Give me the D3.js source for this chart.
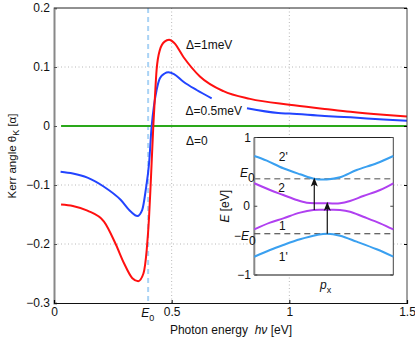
<!DOCTYPE html>
<html><head><meta charset="utf-8">
<script src="https://cdn.jsdelivr.net/npm/d3@7"></script>
<style>
html,body{margin:0;padding:0;background:#fff;}
svg text{font-family:"Liberation Sans",Arial,sans-serif;fill:#111;}
</style></head>
<body><svg id="c" width="415" height="346"></svg>
<script>
// ---------- data ----------
const E0 = 0.4;
const xTicks = [0, 0.5, 1, 1.5];
const yTicks = [0.2, 0.1, 0, -0.1, -0.2, -0.3];
const yTickLabels = ["0.2", "0.1", "0", "\u22120.1", "\u22120.2", "\u22120.3"];
const redX = [0.03,0.08,0.142,0.2125,0.262,0.298,0.333,0.358,0.38,0.394,0.404,0.411,0.422,0.429,0.436,0.45,0.47,0.489,0.51,0.55,0.62,0.72,0.833,1.0,1.15,1.26,1.4,1.5];
const redY = [-0.133,-0.1355,-0.1435,-0.162,-0.2,-0.233,-0.258,-0.263,-0.25,-0.21,-0.154,-0.097,0,0.05,0.095,0.129,0.143,0.146,0.141,0.117,0.084,0.059,0.046,0.036,0.029,0.024,0.019,0.016];
const blueX1 = [0.028,0.08,0.142,0.2125,0.283,0.326,0.354,0.375,0.39,0.404,0.415,0.425,0.436,0.45,0.47,0.486,0.51,0.55,0.606,0.67];
const blueY1 = [-0.0775,-0.0805,-0.0875,-0.103,-0.125,-0.145,-0.1525,-0.142,-0.108,-0.063,0,0.035,0.061,0.081,0.089,0.091,0.088,0.075,0.061,0.047];
const blueX2 = [0.82,0.953,1.0,1.15,1.26,1.4,1.5];
const blueY2 = [0.030,0.022,0.021,0.017,0.0147,0.011,0.009];
const greenX = [0.03, 1.5];
const greenY = [0, 0];
const curveLabels = ["\u0394=1meV", "\u0394=0.5meV", "\u0394=0"];
// inset bands (px, E)
const band2pP = [-1,-0.82,-0.583,-0.342,-0.127,0.042,0.233,0.473,0.761,1];
const band2pE = [0.731,0.663,0.552,0.465,0.396,0.39,0.421,0.527,0.625,0.731];
const band1pP = [-1,-0.774,-0.583,-0.342,-0.1,0.05,0.233,0.473,0.761,1];
const band1pE = [-0.734,-0.636,-0.564,-0.481,-0.418,-0.399,-0.428,-0.515,-0.626,-0.734];
const band2P = [-1,-0.774,-0.583,-0.39,-0.246,-0.1,0.07,0.233,0.377,0.568,0.81,1];
const band2E = [0.334,0.236,0.164,0.091,0.052,0.043,0.042,0.043,0.076,0.149,0.236,0.334];
const band1P = [-1,-0.774,-0.583,-0.342,-0.151,0.04,0.233,0.377,0.568,0.81,1];
const band1E = [-0.336,-0.239,-0.176,-0.093,-0.055,-0.053,-0.055,-0.079,-0.152,-0.248,-0.336];
const arrowP = [-0.137, 0.05];
const arrowFrom = [-0.055, -0.4];
const arrowTo = [0.42, 0.066];
const bandLabels = ["2'", "2", "1", "1'"];
const bandLabelE = [0.72, 0.27, -0.29, -0.74];

// ---------- scales ----------
const svg = d3.select("#c");
const x = d3.scaleLinear([0, 1.5], [54, 407]);
const y = d3.scaleLinear([-0.3, 0.2], [303, 8]);
const ix = d3.scaleLinear([-1, 1], [254.3, 393.3]);
const iy = d3.scaleLinear([-1, 1], [275, 137.5]);
const zip = (a, b) => a.map((v, i) => [v, b[i]]);

// grid
const grid = svg.append("g").attr("stroke", "#b8b8b8").attr("stroke-dasharray", "1,2.5").attr("stroke-width", 1);
[0.1, -0.1, -0.2].forEach(v => grid.append("line").attr("x1", x(0)).attr("x2", x(1.5)).attr("y1", y(v)).attr("y2", y(v)));
[0.5, 1].forEach(v => grid.append("line").attr("x1", x(v)).attr("x2", x(v)).attr("y1", y(-0.3)).attr("y2", y(0.2)));

// E0 dashed line
svg.append("line").attr("x1", x(E0)).attr("x2", x(E0)).attr("y1", y(0.2)).attr("y2", y(-0.3))
  .attr("stroke", "#a9d3f5").attr("stroke-width", 2).attr("stroke-dasharray", "5,4");

// curves
const line = d3.line().x(d => x(d[0])).y(d => y(d[1])).curve(d3.curveMonotoneX);
svg.append("path").attr("d", line(zip(greenX, greenY))).attr("fill", "none").attr("stroke", "#2aa81a").attr("stroke-width", 2);
svg.append("path").attr("d", line(zip(blueX1, blueY1))).attr("fill", "none").attr("stroke", "#2244ff").attr("stroke-width", 2);
svg.append("path").attr("d", line(zip(blueX2, blueY2))).attr("fill", "none").attr("stroke", "#2244ff").attr("stroke-width", 2);
svg.append("path").attr("d", line(zip(redX, redY))).attr("fill", "none").attr("stroke", "#ff1010").attr("stroke-width", 2);

// frame & axes
svg.append("line").attr("x1", x(0)).attr("x2", x(1.5)).attr("y1", y(0.2)).attr("y2", y(0.2)).attr("stroke", "#222").attr("stroke-width", 1);
svg.append("line").attr("x1", x(1.5)).attr("x2", x(1.5)).attr("y1", y(0.2)).attr("y2", y(-0.3)).attr("stroke", "#444").attr("stroke-width", 1);
const ya = svg.append("g").attr("transform", `translate(${x(0)},0)`)
  .call(d3.axisLeft(y).tickValues(yTicks).tickSize(-3).tickFormat((d, i) => yTickLabels[i]));
ya.select(".domain").attr("stroke", "#888").attr("stroke-width", 2);
ya.selectAll(".tick line").attr("stroke", "#555");
ya.selectAll("text").attr("x", -4).style("font-size", "12px").attr("font-family", null);
const yr = svg.append("g").attr("transform", `translate(${x(1.5)},0)`)
  .call(d3.axisRight(y).tickValues(yTicks).tickSize(-3).tickFormat(""));
yr.select(".domain").remove();
const xa = svg.append("g").attr("transform", `translate(0,${y(-0.3)})`)
  .call(d3.axisBottom(x).tickValues(xTicks).tickSize(-3).tickFormat(d3.format("")));
xa.select(".domain").attr("stroke", "#111").attr("stroke-width", 1.2);
xa.selectAll("text").attr("y", 4).style("font-size", "12px").attr("font-family", null);
// E0 tick label
const e0t = svg.append("text").attr("x", x(E0) - 7).attr("y", 317).style("font-size", "12px");
e0t.append("tspan").attr("font-style", "italic").text("E");
e0t.append("tspan").attr("dy", 4).style("font-size", "9px").text("0");

// axis titles
const xt = svg.append("text").attr("x", 231).attr("y", 334).attr("text-anchor", "middle").style("font-size", "12px");
xt.append("tspan").text("Photon energy\u00a0\u00a0");
xt.append("tspan").attr("font-style", "italic").text("h\u03bd");
xt.append("tspan").text("\u00a0[eV]");
const yt = svg.append("text").attr("transform", "translate(16,156) rotate(-90)").attr("text-anchor", "middle").style("font-size", "11.5px");
yt.append("tspan").text("Kerr angle \u03b8");
yt.append("tspan").attr("dy", 3).style("font-size", "9px").text("K");
yt.append("tspan").attr("dy", -3).text("\u00a0[\u03b1]");

// curve labels
svg.append("text").attr("x", 186).attr("y", 48.5).style("font-size", "12px").text(curveLabels[0]);
svg.append("text").attr("x", 185.5).attr("y", 114.5).style("font-size", "12px").text(curveLabels[1]);
svg.append("text").attr("x", 186).attr("y", 145).style("font-size", "12px").text(curveLabels[2]);

// ---------- inset ----------
const ins = svg.append("g");
ins.append("rect").attr("x", ix(-1)).attr("y", iy(1)).attr("width", ix(1) - ix(-1)).attr("height", iy(-1) - iy(1)).attr("fill", "#fff");
ins.append("line").attr("x1", ix(-1)).attr("x2", ix(1)).attr("y1", iy(1)).attr("y2", iy(1)).attr("stroke", "#222");
ins.append("line").attr("x1", ix(1)).attr("x2", ix(1)).attr("y1", iy(1)).attr("y2", iy(-1)).attr("stroke", "#444");
ins.append("line").attr("x1", ix(-1)).attr("x2", ix(-1)).attr("y1", iy(1)).attr("y2", iy(-1)).attr("stroke", "#888").attr("stroke-width", 2);
ins.append("line").attr("x1", ix(-1)).attr("x2", ix(1)).attr("y1", iy(-1)).attr("y2", iy(-1)).attr("stroke", "#888").attr("stroke-width", 2);
[1, 0, -1].forEach(v => {
  ins.append("line").attr("x1", ix(-1)).attr("x2", ix(-1) + 3).attr("y1", iy(v)).attr("y2", iy(v)).attr("stroke", "#444");
  ins.append("line").attr("x1", ix(1)).attr("x2", ix(1) - 3).attr("y1", iy(v)).attr("y2", iy(v)).attr("stroke", "#444");
});
// dashed E0 lines
ins.append("line").attr("x1", ix(-1)).attr("x2", ix(1)).attr("y1", iy(E0)).attr("y2", iy(E0)).attr("stroke", "#888").attr("stroke-width", 1.3).attr("stroke-dasharray", "6,4");
ins.append("line").attr("x1", ix(-1)).attr("x2", ix(1)).attr("y1", iy(-E0)).attr("y2", iy(-E0)).attr("stroke", "#333").attr("stroke-width", 1).attr("stroke-dasharray", "6,4");
const iline = d3.line().x(d => ix(d[0])).y(d => iy(d[1])).curve(d3.curveCatmullRom.alpha(0.5));
ins.append("path").attr("d", iline(zip(band2pP, band2pE))).attr("fill", "none").attr("stroke", "#3aa0f0").attr("stroke-width", 2);
ins.append("path").attr("d", iline(zip(band1pP, band1pE))).attr("fill", "none").attr("stroke", "#3aa0f0").attr("stroke-width", 2);
ins.append("path").attr("d", iline(zip(band2P, band2E))).attr("fill", "none").attr("stroke", "#b040f0").attr("stroke-width", 2);
ins.append("path").attr("d", iline(zip(band1P, band1E))).attr("fill", "none").attr("stroke", "#b040f0").attr("stroke-width", 2);
// arrows
arrowP.forEach((p, i) => {
  const X = ix(p), y0 = iy(arrowFrom[i]), y1 = iy(arrowTo[i]);
  ins.append("line").attr("x1", X).attr("x2", X).attr("y1", y0).attr("y2", y1 + 6).attr("stroke", "#111").attr("stroke-width", 1.2);
  ins.append("path").attr("d", `M${X},${y1} L${X - 3.5},${y1 + 9} L${X},${y1 + 7} L${X + 3.5},${y1 + 9} Z`).attr("fill", "#111");
});
// band labels
const blx = [283.3, 281.7, 282.3, 283.3];
bandLabels.forEach((t, i) => ins.append("text").attr("x", blx[i]).attr("y", iy(bandLabelE[i]) + 4).attr("text-anchor", "middle").style("font-size", "12px").text(t));
// inset tick labels
const itl = ins.append("g").style("font-size", "12px").attr("text-anchor", "end");
itl.append("text").attr("x", 251).attr("y", iy(1) + 4).text("1");
itl.append("text").attr("x", 250).attr("y", iy(0) + 4).text("0");
itl.append("text").attr("x", 251).attr("y", iy(-1) + 4).text("\u22121");
const e0a = ins.append("text").attr("x", 240).attr("y", iy(E0) - 2).style("font-size", "12px");
e0a.append("tspan").attr("font-style", "italic").text("E");
e0a.append("tspan").attr("dy", 5).style("font-size", "12px").text("0");
const e0b = ins.append("text").attr("x", 234).attr("y", iy(-E0) + 6).style("font-size", "12px");
e0b.append("tspan").text("\u2212");
e0b.append("tspan").attr("font-style", "italic").text("E");
e0b.append("tspan").attr("dy", 5).style("font-size", "12px").text("0");
// inset axis titles
const ey = ins.append("text").attr("transform", `translate(229,${iy(0)}) rotate(-90)`).attr("text-anchor", "middle").style("font-size", "12px");
ey.append("tspan").attr("font-style", "italic").text("E");
ey.append("tspan").text("\u00a0[eV]");
const px = ins.append("text").attr("x", 320).attr("y", 289).style("font-size", "12px");
px.append("tspan").attr("font-style", "italic").text("p");
px.append("tspan").attr("dy", 4).style("font-size", "9px").text("x");
</script></body></html>
